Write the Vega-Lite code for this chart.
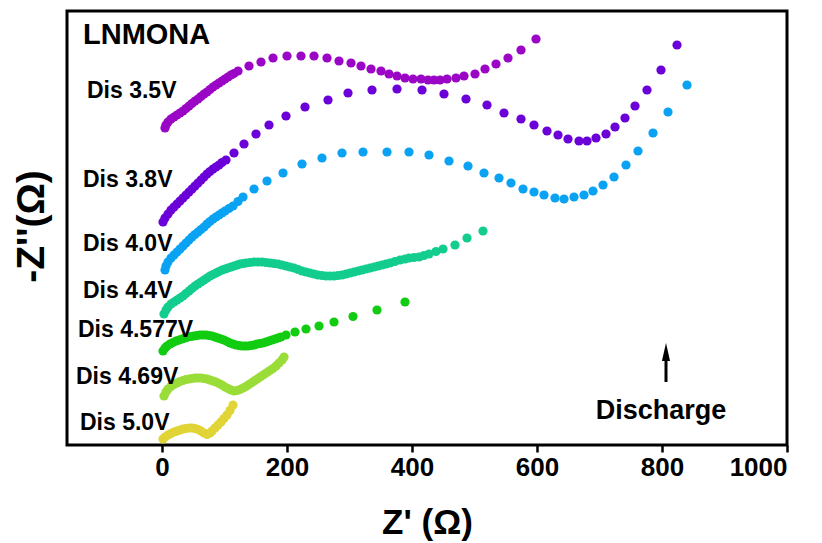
{
  "$schema": "https://vega.github.io/schema/vega-lite/v6.json",
  "autosize": "none",
  "width": 720,
  "height": 434,
  "padding": {"left": 67, "top": 11, "right": 35, "bottom": 98},
  "background": "white",
  "config": {
    "view": {"stroke": "black", "strokeWidth": 3},
    "font": "Liberation Sans"
  },
  "datasets": {
    "eis": [
      {"s":"Dis 3.5V","x":4.8,"y":507.2},{"s":"Dis 3.5V","x":6.4,"y":512},{"s":"Dis 3.5V","x":9.6,"y":516.8},{"s":"Dis 3.5V","x":14.4,"y":521.6},{"s":"Dis 3.5V","x":19.2,"y":524.8},{"s":"Dis 3.5V","x":24,"y":528},{"s":"Dis 3.5V","x":28.8,"y":531.2},{"s":"Dis 3.5V","x":33.6,"y":534.4},{"s":"Dis 3.5V","x":38.4,"y":538.4},{"s":"Dis 3.5V","x":43.2,"y":542.4},{"s":"Dis 3.5V","x":48,"y":546.4},{"s":"Dis 3.5V","x":52.8,"y":550.4},{"s":"Dis 3.5V","x":57.6,"y":553.6},{"s":"Dis 3.5V","x":62.4,"y":557.6},{"s":"Dis 3.5V","x":67.2,"y":561.6},{"s":"Dis 3.5V","x":72,"y":564.8},{"s":"Dis 3.5V","x":76.8,"y":568.8},{"s":"Dis 3.5V","x":81.6,"y":572.8},{"s":"Dis 3.5V","x":86.4,"y":576},{"s":"Dis 3.5V","x":91.2,"y":579.2},{"s":"Dis 3.5V","x":96,"y":582.4},{"s":"Dis 3.5V","x":100.8,"y":585.6},{"s":"Dis 3.5V","x":105.6,"y":588.8},{"s":"Dis 3.5V","x":110.4,"y":592},{"s":"Dis 3.5V","x":115.2,"y":594.4},{"s":"Dis 3.5V","x":121.6,"y":598.4},{"s":"Dis 3.5V","x":139.2,"y":606.4},{"s":"Dis 3.5V","x":158.4,"y":612.8},{"s":"Dis 3.5V","x":177.6,"y":619.2},{"s":"Dis 3.5V","x":200,"y":622.4},{"s":"Dis 3.5V","x":222.4,"y":622.4},{"s":"Dis 3.5V","x":243.2,"y":622.4},{"s":"Dis 3.5V","x":264,"y":619.2},{"s":"Dis 3.5V","x":283.2,"y":614.4},{"s":"Dis 3.5V","x":302.4,"y":611.2},{"s":"Dis 3.5V","x":318.4,"y":606.4},{"s":"Dis 3.5V","x":334.4,"y":601.6},{"s":"Dis 3.5V","x":350.4,"y":598.4},{"s":"Dis 3.5V","x":363.2,"y":593.6},{"s":"Dis 3.5V","x":376,"y":590.4},{"s":"Dis 3.5V","x":388.8,"y":587.2},{"s":"Dis 3.5V","x":401.6,"y":585.6},{"s":"Dis 3.5V","x":414.4,"y":585.6},{"s":"Dis 3.5V","x":425.6,"y":584},{"s":"Dis 3.5V","x":435.2,"y":584},{"s":"Dis 3.5V","x":444.8,"y":584},{"s":"Dis 3.5V","x":456,"y":585.6},{"s":"Dis 3.5V","x":470.4,"y":587.2},{"s":"Dis 3.5V","x":483.2,"y":590.4},{"s":"Dis 3.5V","x":500.8,"y":593.6},{"s":"Dis 3.5V","x":516.8,"y":601.6},{"s":"Dis 3.5V","x":534.4,"y":609.6},{"s":"Dis 3.5V","x":553.6,"y":619.2},{"s":"Dis 3.5V","x":574.4,"y":632},{"s":"Dis 3.5V","x":598.4,"y":649.6},

      {"s":"Dis 3.8V","x":1.6,"y":356.8},{"s":"Dis 3.8V","x":4.8,"y":363.2},{"s":"Dis 3.8V","x":9.6,"y":369.6},{"s":"Dis 3.8V","x":14.4,"y":376},{"s":"Dis 3.8V","x":19.2,"y":380.8},{"s":"Dis 3.8V","x":24,"y":385.6},{"s":"Dis 3.8V","x":28.8,"y":390.4},{"s":"Dis 3.8V","x":33.6,"y":395.2},{"s":"Dis 3.8V","x":38.4,"y":400},{"s":"Dis 3.8V","x":43.2,"y":404.8},{"s":"Dis 3.8V","x":48,"y":409.6},{"s":"Dis 3.8V","x":52.8,"y":414.4},{"s":"Dis 3.8V","x":57.6,"y":419.2},{"s":"Dis 3.8V","x":62.4,"y":424},{"s":"Dis 3.8V","x":67.2,"y":428.8},{"s":"Dis 3.8V","x":72,"y":433.6},{"s":"Dis 3.8V","x":76.8,"y":437.6},{"s":"Dis 3.8V","x":81.6,"y":441.6},{"s":"Dis 3.8V","x":86.4,"y":444.8},{"s":"Dis 3.8V","x":91.2,"y":448},{"s":"Dis 3.8V","x":96,"y":452},{"s":"Dis 3.8V","x":102.4,"y":456},{"s":"Dis 3.8V","x":115.2,"y":467.2},{"s":"Dis 3.8V","x":131.2,"y":481.6},{"s":"Dis 3.8V","x":150.4,"y":497.6},{"s":"Dis 3.8V","x":171.2,"y":512},{"s":"Dis 3.8V","x":198.4,"y":526.4},{"s":"Dis 3.8V","x":228.8,"y":540.8},{"s":"Dis 3.8V","x":265.6,"y":552},{"s":"Dis 3.8V","x":297.6,"y":563.2},{"s":"Dis 3.8V","x":336,"y":568},{"s":"Dis 3.8V","x":376,"y":569.6},{"s":"Dis 3.8V","x":416,"y":568},{"s":"Dis 3.8V","x":451.2,"y":561.6},{"s":"Dis 3.8V","x":486.4,"y":553.6},{"s":"Dis 3.8V","x":520,"y":544},{"s":"Dis 3.8V","x":547.2,"y":531.2},{"s":"Dis 3.8V","x":574.4,"y":521.6},{"s":"Dis 3.8V","x":595.2,"y":512},{"s":"Dis 3.8V","x":616,"y":502.4},{"s":"Dis 3.8V","x":633.6,"y":496},{"s":"Dis 3.8V","x":649.6,"y":489.6},{"s":"Dis 3.8V","x":667.2,"y":486.4},{"s":"Dis 3.8V","x":680,"y":486.4},{"s":"Dis 3.8V","x":694.4,"y":491.2},{"s":"Dis 3.8V","x":710.4,"y":497.6},{"s":"Dis 3.8V","x":724.8,"y":508.8},{"s":"Dis 3.8V","x":740.8,"y":523.2},{"s":"Dis 3.8V","x":756.8,"y":542.4},{"s":"Dis 3.8V","x":776,"y":568},{"s":"Dis 3.8V","x":798.4,"y":600},{"s":"Dis 3.8V","x":824,"y":640},

      {"s":"Dis 4.0V","x":4.8,"y":280},{"s":"Dis 4.0V","x":6.4,"y":286.4},{"s":"Dis 4.0V","x":9.6,"y":292.8},{"s":"Dis 4.0V","x":14.4,"y":299.2},{"s":"Dis 4.0V","x":19.2,"y":304},{"s":"Dis 4.0V","x":24,"y":308.8},{"s":"Dis 4.0V","x":28.8,"y":313.6},{"s":"Dis 4.0V","x":33.6,"y":318.4},{"s":"Dis 4.0V","x":38.4,"y":323.2},{"s":"Dis 4.0V","x":43.2,"y":328},{"s":"Dis 4.0V","x":48,"y":332.8},{"s":"Dis 4.0V","x":52.8,"y":336.8},{"s":"Dis 4.0V","x":57.6,"y":340.8},{"s":"Dis 4.0V","x":62.4,"y":344.8},{"s":"Dis 4.0V","x":67.2,"y":348.8},{"s":"Dis 4.0V","x":72,"y":353.6},{"s":"Dis 4.0V","x":76.8,"y":357.6},{"s":"Dis 4.0V","x":81.6,"y":361.6},{"s":"Dis 4.0V","x":86.4,"y":364.8},{"s":"Dis 4.0V","x":91.2,"y":368},{"s":"Dis 4.0V","x":96,"y":371.2},{"s":"Dis 4.0V","x":100.8,"y":374.4},{"s":"Dis 4.0V","x":107.2,"y":378.4},{"s":"Dis 4.0V","x":113.6,"y":382.4},{"s":"Dis 4.0V","x":121.6,"y":389.6},{"s":"Dis 4.0V","x":129.6,"y":396.8},{"s":"Dis 4.0V","x":147.2,"y":409.6},{"s":"Dis 4.0V","x":168,"y":422.4},{"s":"Dis 4.0V","x":193.6,"y":435.2},{"s":"Dis 4.0V","x":224,"y":449.6},{"s":"Dis 4.0V","x":256,"y":459.2},{"s":"Dis 4.0V","x":288,"y":467.2},{"s":"Dis 4.0V","x":321.6,"y":468.8},{"s":"Dis 4.0V","x":360,"y":468.8},{"s":"Dis 4.0V","x":395.2,"y":468.8},{"s":"Dis 4.0V","x":427.2,"y":464},{"s":"Dis 4.0V","x":459.2,"y":454.4},{"s":"Dis 4.0V","x":489.6,"y":446.4},{"s":"Dis 4.0V","x":515.2,"y":435.2},{"s":"Dis 4.0V","x":539.2,"y":427.2},{"s":"Dis 4.0V","x":558.4,"y":419.2},{"s":"Dis 4.0V","x":577.6,"y":409.6},{"s":"Dis 4.0V","x":595.2,"y":404.8},{"s":"Dis 4.0V","x":611.2,"y":400},{"s":"Dis 4.0V","x":628.8,"y":395.2},{"s":"Dis 4.0V","x":643.2,"y":393.6},{"s":"Dis 4.0V","x":659.2,"y":396.8},{"s":"Dis 4.0V","x":675.2,"y":400},{"s":"Dis 4.0V","x":689.6,"y":406.4},{"s":"Dis 4.0V","x":705.6,"y":416},{"s":"Dis 4.0V","x":723.2,"y":428.8},{"s":"Dis 4.0V","x":742.4,"y":448},{"s":"Dis 4.0V","x":761.6,"y":470.4},{"s":"Dis 4.0V","x":785.6,"y":499.2},{"s":"Dis 4.0V","x":809.6,"y":532.8},{"s":"Dis 4.0V","x":840,"y":576},

      {"s":"Dis 4.4V","x":3.2,"y":209.6},{"s":"Dis 4.4V","x":6.4,"y":216},{"s":"Dis 4.4V","x":9.6,"y":220.8},{"s":"Dis 4.4V","x":14.4,"y":225.6},{"s":"Dis 4.4V","x":19.2,"y":228.8},{"s":"Dis 4.4V","x":24,"y":232},{"s":"Dis 4.4V","x":28.8,"y":235.2},{"s":"Dis 4.4V","x":33.6,"y":238.4},{"s":"Dis 4.4V","x":38.4,"y":242.4},{"s":"Dis 4.4V","x":43.2,"y":246.4},{"s":"Dis 4.4V","x":48,"y":250.4},{"s":"Dis 4.4V","x":52.8,"y":254.4},{"s":"Dis 4.4V","x":57.6,"y":257.6},{"s":"Dis 4.4V","x":62.4,"y":260.8},{"s":"Dis 4.4V","x":67.2,"y":264},{"s":"Dis 4.4V","x":72,"y":267.2},{"s":"Dis 4.4V","x":76.8,"y":270.4},{"s":"Dis 4.4V","x":81.6,"y":272.8},{"s":"Dis 4.4V","x":86.4,"y":275.2},{"s":"Dis 4.4V","x":91.2,"y":277.6},{"s":"Dis 4.4V","x":96,"y":280},{"s":"Dis 4.4V","x":100.8,"y":281.6},{"s":"Dis 4.4V","x":105.6,"y":283.2},{"s":"Dis 4.4V","x":110.4,"y":284.8},{"s":"Dis 4.4V","x":115.2,"y":286.4},{"s":"Dis 4.4V","x":120,"y":288},{"s":"Dis 4.4V","x":124.8,"y":289.6},{"s":"Dis 4.4V","x":129.6,"y":290.4},{"s":"Dis 4.4V","x":134.4,"y":291.2},{"s":"Dis 4.4V","x":140.8,"y":292},{"s":"Dis 4.4V","x":147.2,"y":292.8},{"s":"Dis 4.4V","x":153.6,"y":292.8},{"s":"Dis 4.4V","x":160,"y":292.8},{"s":"Dis 4.4V","x":166.4,"y":292},{"s":"Dis 4.4V","x":172.8,"y":291.2},{"s":"Dis 4.4V","x":179.2,"y":290.4},{"s":"Dis 4.4V","x":185.6,"y":289.6},{"s":"Dis 4.4V","x":192,"y":288},{"s":"Dis 4.4V","x":198.4,"y":286.4},{"s":"Dis 4.4V","x":204.8,"y":284.8},{"s":"Dis 4.4V","x":211.2,"y":283.2},{"s":"Dis 4.4V","x":217.6,"y":280.8},{"s":"Dis 4.4V","x":224,"y":278.4},{"s":"Dis 4.4V","x":230.4,"y":276.8},{"s":"Dis 4.4V","x":236.8,"y":275.2},{"s":"Dis 4.4V","x":243.2,"y":273.6},{"s":"Dis 4.4V","x":249.6,"y":272},{"s":"Dis 4.4V","x":256,"y":271.2},{"s":"Dis 4.4V","x":262.4,"y":270.4},{"s":"Dis 4.4V","x":268.8,"y":270.4},{"s":"Dis 4.4V","x":275.2,"y":270.4},{"s":"Dis 4.4V","x":281.6,"y":271.2},{"s":"Dis 4.4V","x":288,"y":272},{"s":"Dis 4.4V","x":294.4,"y":273.6},{"s":"Dis 4.4V","x":300.8,"y":275.2},{"s":"Dis 4.4V","x":307.2,"y":276.8},{"s":"Dis 4.4V","x":313.6,"y":278.4},{"s":"Dis 4.4V","x":320,"y":280},{"s":"Dis 4.4V","x":326.4,"y":281.6},{"s":"Dis 4.4V","x":332.8,"y":283.2},{"s":"Dis 4.4V","x":339.2,"y":284.8},{"s":"Dis 4.4V","x":345.6,"y":286.4},{"s":"Dis 4.4V","x":352,"y":288},{"s":"Dis 4.4V","x":358.4,"y":289.6},{"s":"Dis 4.4V","x":364.8,"y":291.2},{"s":"Dis 4.4V","x":372.8,"y":293.6},{"s":"Dis 4.4V","x":380.8,"y":296},{"s":"Dis 4.4V","x":388.8,"y":297.6},{"s":"Dis 4.4V","x":395.2,"y":299.2},{"s":"Dis 4.4V","x":403.2,"y":300},{"s":"Dis 4.4V","x":411.2,"y":300.8},{"s":"Dis 4.4V","x":419.2,"y":303.2},{"s":"Dis 4.4V","x":427.2,"y":305.6},{"s":"Dis 4.4V","x":438.4,"y":309.6},{"s":"Dis 4.4V","x":449.6,"y":313.6},{"s":"Dis 4.4V","x":468.8,"y":320},{"s":"Dis 4.4V","x":488,"y":331.2},{"s":"Dis 4.4V","x":513.6,"y":342.4},

      {"s":"Dis 4.577V","x":1.6,"y":150.4},{"s":"Dis 4.577V","x":4.8,"y":155.2},{"s":"Dis 4.577V","x":8,"y":158.4},{"s":"Dis 4.577V","x":12.8,"y":161.6},{"s":"Dis 4.577V","x":17.6,"y":164},{"s":"Dis 4.577V","x":22.4,"y":166.4},{"s":"Dis 4.577V","x":27.2,"y":168},{"s":"Dis 4.577V","x":32,"y":169.6},{"s":"Dis 4.577V","x":36.8,"y":171.2},{"s":"Dis 4.577V","x":41.6,"y":172.8},{"s":"Dis 4.577V","x":46.4,"y":173.6},{"s":"Dis 4.577V","x":51.2,"y":174.4},{"s":"Dis 4.577V","x":56,"y":175.2},{"s":"Dis 4.577V","x":60.8,"y":176},{"s":"Dis 4.577V","x":65.6,"y":176},{"s":"Dis 4.577V","x":70.4,"y":176},{"s":"Dis 4.577V","x":75.2,"y":175.2},{"s":"Dis 4.577V","x":80,"y":174.4},{"s":"Dis 4.577V","x":84.8,"y":172.8},{"s":"Dis 4.577V","x":89.6,"y":171.2},{"s":"Dis 4.577V","x":94.4,"y":169.6},{"s":"Dis 4.577V","x":99.2,"y":168},{"s":"Dis 4.577V","x":104,"y":165.6},{"s":"Dis 4.577V","x":108.8,"y":163.2},{"s":"Dis 4.577V","x":113.6,"y":161.6},{"s":"Dis 4.577V","x":118.4,"y":160},{"s":"Dis 4.577V","x":123.2,"y":159.2},{"s":"Dis 4.577V","x":128,"y":158.4},{"s":"Dis 4.577V","x":132.8,"y":158.4},{"s":"Dis 4.577V","x":137.6,"y":158.4},{"s":"Dis 4.577V","x":142.4,"y":159.2},{"s":"Dis 4.577V","x":147.2,"y":160},{"s":"Dis 4.577V","x":152,"y":161.6},{"s":"Dis 4.577V","x":156.8,"y":162.4},{"s":"Dis 4.577V","x":161.6,"y":163.2},{"s":"Dis 4.577V","x":166.4,"y":164.8},{"s":"Dis 4.577V","x":171.2,"y":166.4},{"s":"Dis 4.577V","x":176,"y":168},{"s":"Dis 4.577V","x":180.8,"y":169.6},{"s":"Dis 4.577V","x":185.6,"y":171.2},{"s":"Dis 4.577V","x":190.4,"y":172.8},{"s":"Dis 4.577V","x":198.4,"y":176},{"s":"Dis 4.577V","x":212.8,"y":180.8},{"s":"Dis 4.577V","x":230.4,"y":185.6},{"s":"Dis 4.577V","x":251.2,"y":190.4},{"s":"Dis 4.577V","x":275.2,"y":196.8},{"s":"Dis 4.577V","x":305.6,"y":205.6},{"s":"Dis 4.577V","x":344,"y":216},{"s":"Dis 4.577V","x":388.8,"y":228.8},

      {"s":"Dis 4.69V","x":3.2,"y":78.4},{"s":"Dis 4.69V","x":6.4,"y":84.8},{"s":"Dis 4.69V","x":9.6,"y":89.6},{"s":"Dis 4.69V","x":14.4,"y":93.6},{"s":"Dis 4.69V","x":19.2,"y":96.8},{"s":"Dis 4.69V","x":24,"y":99.2},{"s":"Dis 4.69V","x":28.8,"y":101.6},{"s":"Dis 4.69V","x":33.6,"y":103.2},{"s":"Dis 4.69V","x":38.4,"y":104.8},{"s":"Dis 4.69V","x":43.2,"y":105.6},{"s":"Dis 4.69V","x":48,"y":106.4},{"s":"Dis 4.69V","x":52.8,"y":107.2},{"s":"Dis 4.69V","x":57.6,"y":107.2},{"s":"Dis 4.69V","x":62.4,"y":107.2},{"s":"Dis 4.69V","x":67.2,"y":106.4},{"s":"Dis 4.69V","x":72,"y":105.6},{"s":"Dis 4.69V","x":76.8,"y":104},{"s":"Dis 4.69V","x":81.6,"y":102.4},{"s":"Dis 4.69V","x":86.4,"y":100.8},{"s":"Dis 4.69V","x":91.2,"y":98.4},{"s":"Dis 4.69V","x":96,"y":96},{"s":"Dis 4.69V","x":100.8,"y":92.8},{"s":"Dis 4.69V","x":105.6,"y":90.4},{"s":"Dis 4.69V","x":110.4,"y":88},{"s":"Dis 4.69V","x":115.2,"y":86.4},{"s":"Dis 4.69V","x":120,"y":87.2},{"s":"Dis 4.69V","x":124.8,"y":88.8},{"s":"Dis 4.69V","x":129.6,"y":91.2},{"s":"Dis 4.69V","x":134.4,"y":93.6},{"s":"Dis 4.69V","x":139.2,"y":96.8},{"s":"Dis 4.69V","x":144,"y":100},{"s":"Dis 4.69V","x":148.8,"y":103.2},{"s":"Dis 4.69V","x":153.6,"y":106.4},{"s":"Dis 4.69V","x":158.4,"y":109.6},{"s":"Dis 4.69V","x":163.2,"y":112.8},{"s":"Dis 4.69V","x":168,"y":116},{"s":"Dis 4.69V","x":172.8,"y":119.2},{"s":"Dis 4.69V","x":177.6,"y":122.4},{"s":"Dis 4.69V","x":182.4,"y":126.4},{"s":"Dis 4.69V","x":187.2,"y":131.2},{"s":"Dis 4.69V","x":192,"y":136},{"s":"Dis 4.69V","x":195.2,"y":140.8},

      {"s":"Dis 5.0V","x":1.6,"y":9.6},{"s":"Dis 5.0V","x":4.8,"y":12.8},{"s":"Dis 5.0V","x":9.6,"y":16},{"s":"Dis 5.0V","x":14.4,"y":18.4},{"s":"Dis 5.0V","x":19.2,"y":20.8},{"s":"Dis 5.0V","x":24,"y":22.4},{"s":"Dis 5.0V","x":28.8,"y":24},{"s":"Dis 5.0V","x":33.6,"y":25.6},{"s":"Dis 5.0V","x":38.4,"y":26.4},{"s":"Dis 5.0V","x":43.2,"y":27.2},{"s":"Dis 5.0V","x":48,"y":27.2},{"s":"Dis 5.0V","x":52.8,"y":26.4},{"s":"Dis 5.0V","x":57.6,"y":24.8},{"s":"Dis 5.0V","x":62.4,"y":22.4},{"s":"Dis 5.0V","x":67.2,"y":19.2},{"s":"Dis 5.0V","x":72,"y":16.8},{"s":"Dis 5.0V","x":76.8,"y":19.2},{"s":"Dis 5.0V","x":80,"y":22.4},{"s":"Dis 5.0V","x":84.8,"y":27.2},{"s":"Dis 5.0V","x":89.6,"y":32},{"s":"Dis 5.0V","x":94.4,"y":36.8},{"s":"Dis 5.0V","x":99.2,"y":42.4},{"s":"Dis 5.0V","x":104,"y":48},{"s":"Dis 5.0V","x":108.8,"y":55.2},{"s":"Dis 5.0V","x":113.6,"y":64}
    ],
    "labels": [
      {"label":"Dis 3.5V","x":-120,"y":555.2},
      {"label":"Dis 3.8V","x":-126.4,"y":412.8},
      {"label":"Dis 4.0V","x":-126.4,"y":310.4},
      {"label":"Dis 4.4V","x":-126.4,"y":235.2},
      {"label":"Dis 4.577V","x":-134.4,"y":172.8},
      {"label":"Dis 4.69V","x":-137.6,"y":97.6},
      {"label":"Dis 5.0V","x":-131.2,"y":24}
    ]
  },
  "layer": [
    {
      "data": {"name": "eis"},
      "mark": {"type": "point", "filled": true, "opacity": 1, "size": 85, "shape": "circle"},
      "encoding": {
        "x": {
          "field": "x", "type": "quantitative",
          "scale": {"domain": [-152, 1000], "nice": false, "zero": false},
          "axis": {
            "values": [0, 200, 400, 600, 800, 1000], "format": "d",
            "grid": false, "domain": false,
            "ticks": true, "tickSize": 7, "tickWidth": 2.5, "tickColor": "black",
            "labelFont": "Liberation Sans", "labelFontWeight": "bold",
            "labelFontSize": 26, "labelColor": "black", "labelPadding": 2,
            "title": "Z' (Ω)", "titleFont": "Liberation Sans",
            "titleFontWeight": "bold", "titleFontSize": 35, "titleColor": "black",
            "titleBaseline": "alphabetic", "titleY": 88
          }
        },
        "y": {
          "field": "y", "type": "quantitative",
          "scale": {"domain": [0, 694.4], "nice": false, "zero": false},
          "axis": {
            "labels": false, "ticks": false, "grid": false, "domain": false,
            "title": "-Z''(Ω)", "titleFont": "Liberation Sans",
            "titleFontWeight": "bold", "titleFontSize": 39, "titleColor": "black",
            "titleAngle": -90, "titleAlign": "center", "titleBaseline": "middle",
            "titleX": -36, "titleY": 215
          }
        },
        "color": {
          "field": "s", "type": "nominal", "legend": null,
          "scale": {
            "domain": ["Dis 3.5V", "Dis 3.8V", "Dis 4.0V", "Dis 4.4V", "Dis 4.577V", "Dis 4.69V", "Dis 5.0V"],
            "range": ["#9b05c5", "#6b00d9", "#0aa2f2", "#12cd8e", "#11cc11", "#9bdd38", "#e0d436"]
          }
        }
      }
    },
    {
      "data": {"name": "labels"},
      "mark": {"type": "text", "align": "left", "baseline": "alphabetic", "font": "Liberation Sans", "fontWeight": "bold", "fontSize": 23, "color": "black"},
      "encoding": {
        "x": {"field": "x", "type": "quantitative"},
        "y": {"field": "y", "type": "quantitative"},
        "text": {"field": "label"}
      }
    },
    {
      "data": {"values": [{"t": "LNMONA", "x": -126.4, "y": 641.6}]},
      "mark": {"type": "text", "align": "left", "baseline": "alphabetic", "font": "Liberation Sans", "fontWeight": "bold", "fontSize": 29, "color": "black"},
      "encoding": {
        "x": {"field": "x", "type": "quantitative"},
        "y": {"field": "y", "type": "quantitative"},
        "text": {"field": "t"}
      }
    },
    {
      "data": {"values": [{"t": "Discharge", "x": 798.4, "y": 41.6}]},
      "mark": {"type": "text", "align": "center", "baseline": "alphabetic", "font": "Liberation Sans", "fontWeight": "bold", "fontSize": 27, "color": "black"},
      "encoding": {
        "x": {"field": "x", "type": "quantitative"},
        "y": {"field": "y", "type": "quantitative"},
        "text": {"field": "t"}
      }
    },
    {
      "data": {"values": [{"x": 806.4, "y1": 100.8, "y2": 148.8}]},
      "mark": {"type": "rule", "color": "black", "strokeWidth": 3},
      "encoding": {
        "x": {"field": "x", "type": "quantitative"},
        "y": {"field": "y1", "type": "quantitative"},
        "y2": {"field": "y2"}
      }
    },
    {
      "data": {"values": [{"x": 806.4, "y": 148.8}]},
      "mark": {"type": "point", "filled": true, "color": "black", "opacity": 1, "size": 324, "shape": "M-0.45,1L0,-1L0.45,1Z"},
      "encoding": {
        "x": {"field": "x", "type": "quantitative"},
        "y": {"field": "y", "type": "quantitative"}
      }
    }
  ]
}
